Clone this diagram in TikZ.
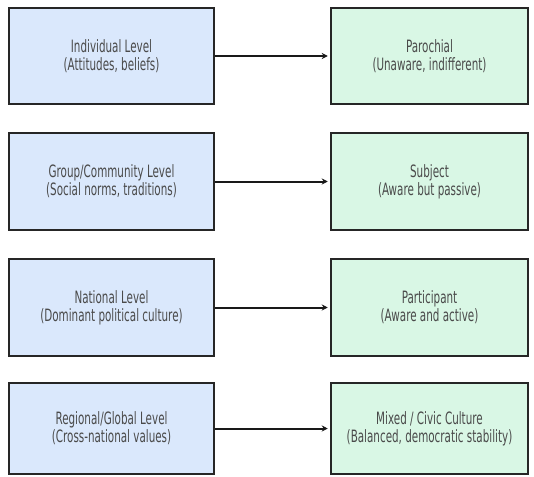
\documentclass[tikz,border=0pt]{standalone}
\usepackage{fontspec}
\setmainfont{DejaVu Sans}[FakeStretch=0.61]
\usetikzlibrary{arrows.meta}
\definecolor{lblue}{HTML}{DAE8FC}
\definecolor{lgreen}{HTML}{D9F7E5}
\definecolor{txt}{HTML}{4A4A4A}
\begin{document}
\begin{tikzpicture}[x=1pt,y=-1pt,
  box/.style={draw=black!85, line width=2.5pt, minimum width=205pt, minimum height=96pt,
    align=center, text=txt, font=\fontsize{17}{18}\selectfont, inner sep=0pt},
  lbox/.style={box, fill=lblue},
  rbox/.style={box, fill=lgreen, minimum width=197pt},
  conn/.style={-{Stealth[length=6pt,width=6pt]}, line width=2pt, draw=black!90, shorten >=2pt}]
\useasboundingbox (0,0) rectangle (534,476);
\node[lbox] (l1) at (111.5,56) {Individual Level\\(Attitudes, beliefs)};
\node[rbox] (r1) at (429.5,56) {Parochial\\(Unaware, indifferent)};
\node[lbox, minimum height=97pt] (l2) at (111.5,181.5) {Group/Community Level\\(Social norms, traditions)};
\node[rbox, minimum height=97pt] (r2) at (429.5,181.5) {Subject\\(Aware but passive)};
\node[lbox, minimum height=97pt] (l3) at (111.5,307.5) {National Level\\(Dominant political culture)};
\node[rbox, minimum height=97pt] (r3) at (429.5,307.5) {Participant\\(Aware and active)};
\node[lbox, minimum height=91pt] (l4) at (111.5,428.5) {Regional/Global Level\\(Cross-national values)};
\node[rbox, minimum height=91pt] (r4) at (429.5,428.5) {Mixed / Civic Culture\\(Balanced, democratic stability)};
\draw[conn] (l1) -- (r1);
\draw[conn] (l2) -- (r2);
\draw[conn] (l3) -- (r3);
\draw[conn] (l4) -- (r4);
\end{tikzpicture}
\end{document}
